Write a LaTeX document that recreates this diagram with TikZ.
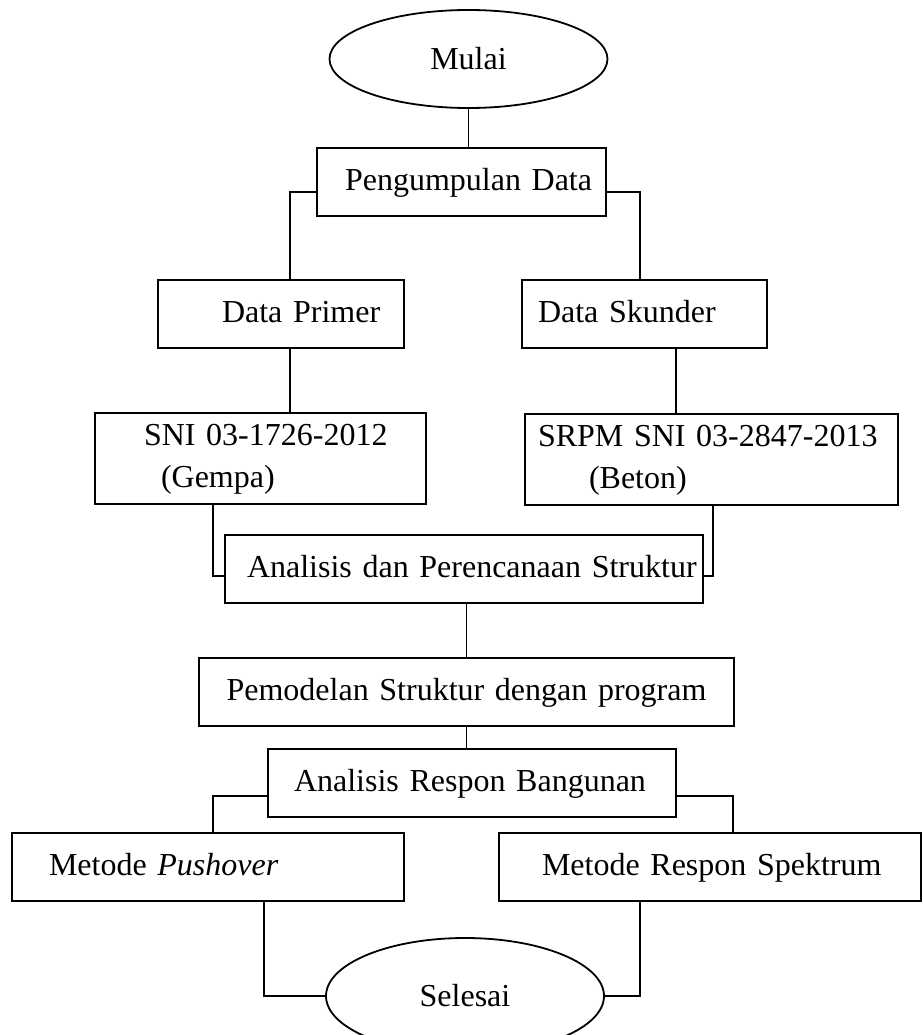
\documentclass[tikz,border=0pt]{standalone}
\usepackage{fontspec}
\setmainfont{Liberation Serif}
\usetikzlibrary{positioning,shapes.geometric}

\begin{document}
\begin{tikzpicture}[x=1pt,y=-1pt,font=\fontsize{32}{42}\selectfont,
      box/.style={rectangle,draw,line width=1.8pt,minimum height=68pt,outer sep=0pt,
        inner xsep=0pt,inner ysep=0pt,align=left},
      oval/.style={ellipse,draw,line width=1.8pt,inner sep=0pt,outer sep=0pt,minimum width=278pt},
      link/.style={line width=1.5pt}]
      \clip (0,0) rectangle (922,1035);

      \node[oval,minimum height=98pt] (mulai) at (468.5,59) {Mulai};
      \node[box,text width=289pt] (kumpul) [below=40pt of mulai,xshift=-7pt] {\hspace*{28pt}Pengumpulan Data\strut};
      \node[box,text width=246pt] (primer) [below=64pt of kumpul,xshift=-180.5pt] {\hspace*{64pt}Data Primer\strut};
      \node[box,text width=245pt] (skunder) [below=64pt of kumpul,xshift=183pt] {\hspace*{16pt}Data Skunder\strut};
      \node[box,text width=331pt,minimum height=91pt] (sni) [below=65pt of primer,xshift=-20.5pt]
        {\hspace*{49pt}SNI 03-1726-2012\strut\\\hspace*{66pt}(Gempa)\strut};
      \node[box,text width=373pt,minimum height=91pt] (srpm) [below=66pt of skunder,xshift=67pt]
        {\hspace*{13pt}SRPM SNI 03-2847-2013\strut\\\hspace*{64pt}(Beton)\strut};
      \node[box,text width=478pt] (analisis) [below=31pt of sni,xshift=203.5pt] {\hspace*{22pt}Analisis dan Perencanaan Struktur\strut};
      \node[box,text width=535pt,align=center] (model) [below=55pt of analisis,xshift=2.5pt] {Pemodelan Struktur dengan program\strut};
      \node[box,text width=408pt] (respon) [below=23pt of model,xshift=5.5pt] {\hspace*{26pt}Analisis Respon Bangunan\strut};
      \node[box,text width=392pt] (pushover) [below=16pt of respon,xshift=-264pt] {\hspace*{37pt}Metode \textit{Pushover}\strut};
      \node[box,text width=422pt] (spektrum) [below=16pt of respon,xshift=238pt] {\hspace*{43pt}Metode Respon Spektrum\strut};
      \node[oval,minimum height=116pt] (selesai) [below=121pt of respon,xshift=-7pt] {Selesai};

      % penghubung
      \draw[link] (mulai.south) -- (mulai.south |- kumpul.north);
      \draw[link] ([yshift=-10pt]kumpul.west) -| ([xshift=9pt]primer.north);
      \draw[link] ([yshift=-10pt]kumpul.east) -| ([xshift=-4.5pt]skunder.north);
      \draw[link] ([xshift=9pt]primer.south) -- ([xshift=9pt]primer.south |- sni.north);
      \draw[link] ([xshift=31.5pt]skunder.south) -- ([xshift=31.5pt]skunder.south |- srpm.north);
      \draw[link] ([xshift=-47.5pt]sni.south) |- ([yshift=-7pt]analisis.west);
      \draw[link] ([xshift=1.5pt]srpm.south) |- ([yshift=-7pt]analisis.east);
      \draw[link] (model.north |- analisis.south) -- (model.north);
      \draw[link] (model.south) -- (model.south |- respon.north);
      \draw[link] ([yshift=-13pt]respon.west) -| ([xshift=5pt]pushover.north);
      \draw[link] ([yshift=-13pt]respon.east) -| ([xshift=23pt]spektrum.north);
      \draw[link] ([xshift=56pt]pushover.south) |- (selesai.west);
      \draw[link] ([xshift=-70pt]spektrum.south) |- (selesai.east);
\end{tikzpicture}
\end{document}
